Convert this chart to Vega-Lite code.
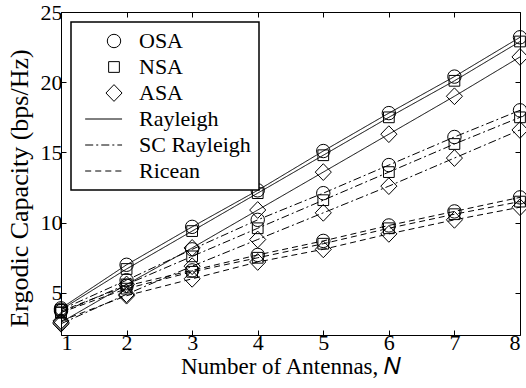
{
  "$schema": "https://vega.github.io/schema/vega-lite/v6.json",
  "width": 459,
  "height": 323,
  "autosize": "none",
  "padding": {"left": 61, "top": 12, "right": 6, "bottom": 53},
  "background": "white",
  "config": {
    "view": {"stroke": "black", "strokeWidth": 1},
    "font": "Liberation Serif",
    "style": {
      "guide-label": {"font": "Liberation Serif", "fill": "black"},
      "guide-title": {"font": "Liberation Serif", "fill": "black"}
    },
    "axis": {
      "domain": false,
      "grid": false,
      "tickColor": "black",
      "tickSize": -5,
      "labelColor": "black",
      "labelFont": "Liberation Serif",
      "labelFontSize": 22,
      "titleFont": "Liberation Serif",
      "titleFontSize": 23,
      "titleFontWeight": "normal",
      "titleColor": "black"
    },
    "legend": {
      "orient": "none",
      "legendX": 10,
      "legendY": 10,
      "strokeColor": "black",
      "strokeWidth": 1.5,
      "fillColor": "white",
      "padding": 8,
      "labelFont": "Liberation Serif",
      "labelFontSize": 22,
      "labelColor": "black",
      "symbolStrokeColor": "black",
      "symbolStrokeWidth": 1,
      "symbolSize": 180,
      "symbolOffset": 24,
      "labelOffset": 14,
      "rowPadding": 4
    }
  },
  "data": {
    "values": [
      {"N": 1, "channel": "Rayleigh", "strategy": "OSA", "C": 3.9},
      {"N": 2, "channel": "Rayleigh", "strategy": "OSA", "C": 7.0},
      {"N": 3, "channel": "Rayleigh", "strategy": "OSA", "C": 9.7},
      {"N": 4, "channel": "Rayleigh", "strategy": "OSA", "C": 12.3},
      {"N": 5, "channel": "Rayleigh", "strategy": "OSA", "C": 15.1},
      {"N": 6, "channel": "Rayleigh", "strategy": "OSA", "C": 17.8},
      {"N": 7, "channel": "Rayleigh", "strategy": "OSA", "C": 20.4},
      {"N": 8, "channel": "Rayleigh", "strategy": "OSA", "C": 23.2},
      {"N": 1, "channel": "Rayleigh", "strategy": "NSA", "C": 3.8},
      {"N": 2, "channel": "Rayleigh", "strategy": "NSA", "C": 6.7},
      {"N": 3, "channel": "Rayleigh", "strategy": "NSA", "C": 9.4},
      {"N": 4, "channel": "Rayleigh", "strategy": "NSA", "C": 12.1},
      {"N": 5, "channel": "Rayleigh", "strategy": "NSA", "C": 14.8},
      {"N": 6, "channel": "Rayleigh", "strategy": "NSA", "C": 17.5},
      {"N": 7, "channel": "Rayleigh", "strategy": "NSA", "C": 20.1},
      {"N": 8, "channel": "Rayleigh", "strategy": "NSA", "C": 22.9},
      {"N": 1, "channel": "Rayleigh", "strategy": "ASA", "C": 2.9},
      {"N": 2, "channel": "Rayleigh", "strategy": "ASA", "C": 5.6},
      {"N": 3, "channel": "Rayleigh", "strategy": "ASA", "C": 8.2},
      {"N": 4, "channel": "Rayleigh", "strategy": "ASA", "C": 10.9},
      {"N": 5, "channel": "Rayleigh", "strategy": "ASA", "C": 13.6},
      {"N": 6, "channel": "Rayleigh", "strategy": "ASA", "C": 16.3},
      {"N": 7, "channel": "Rayleigh", "strategy": "ASA", "C": 19.0},
      {"N": 8, "channel": "Rayleigh", "strategy": "ASA", "C": 21.8},
      {"N": 1, "channel": "SC Rayleigh", "strategy": "OSA", "C": 3.8},
      {"N": 2, "channel": "SC Rayleigh", "strategy": "OSA", "C": 5.9},
      {"N": 3, "channel": "SC Rayleigh", "strategy": "OSA", "C": 8.1},
      {"N": 4, "channel": "SC Rayleigh", "strategy": "OSA", "C": 10.2},
      {"N": 5, "channel": "SC Rayleigh", "strategy": "OSA", "C": 12.1},
      {"N": 6, "channel": "SC Rayleigh", "strategy": "OSA", "C": 14.1},
      {"N": 7, "channel": "SC Rayleigh", "strategy": "OSA", "C": 16.1},
      {"N": 8, "channel": "SC Rayleigh", "strategy": "OSA", "C": 18.0},
      {"N": 1, "channel": "SC Rayleigh", "strategy": "NSA", "C": 3.6},
      {"N": 2, "channel": "SC Rayleigh", "strategy": "NSA", "C": 5.6},
      {"N": 3, "channel": "SC Rayleigh", "strategy": "NSA", "C": 7.6},
      {"N": 4, "channel": "SC Rayleigh", "strategy": "NSA", "C": 9.6},
      {"N": 5, "channel": "SC Rayleigh", "strategy": "NSA", "C": 11.6},
      {"N": 6, "channel": "SC Rayleigh", "strategy": "NSA", "C": 13.6},
      {"N": 7, "channel": "SC Rayleigh", "strategy": "NSA", "C": 15.6},
      {"N": 8, "channel": "SC Rayleigh", "strategy": "NSA", "C": 17.5},
      {"N": 1, "channel": "SC Rayleigh", "strategy": "ASA", "C": 2.8},
      {"N": 2, "channel": "SC Rayleigh", "strategy": "ASA", "C": 4.9},
      {"N": 3, "channel": "SC Rayleigh", "strategy": "ASA", "C": 6.9},
      {"N": 4, "channel": "SC Rayleigh", "strategy": "ASA", "C": 8.8},
      {"N": 5, "channel": "SC Rayleigh", "strategy": "ASA", "C": 10.7},
      {"N": 6, "channel": "SC Rayleigh", "strategy": "ASA", "C": 12.6},
      {"N": 7, "channel": "SC Rayleigh", "strategy": "ASA", "C": 14.6},
      {"N": 8, "channel": "SC Rayleigh", "strategy": "ASA", "C": 16.6},
      {"N": 1, "channel": "Ricean", "strategy": "OSA", "C": 3.7},
      {"N": 2, "channel": "Ricean", "strategy": "OSA", "C": 5.5},
      {"N": 3, "channel": "Ricean", "strategy": "OSA", "C": 6.6},
      {"N": 4, "channel": "Ricean", "strategy": "OSA", "C": 7.7},
      {"N": 5, "channel": "Ricean", "strategy": "OSA", "C": 8.7},
      {"N": 6, "channel": "Ricean", "strategy": "OSA", "C": 9.8},
      {"N": 7, "channel": "Ricean", "strategy": "OSA", "C": 10.8},
      {"N": 8, "channel": "Ricean", "strategy": "OSA", "C": 11.8},
      {"N": 1, "channel": "Ricean", "strategy": "NSA", "C": 3.6},
      {"N": 2, "channel": "Ricean", "strategy": "NSA", "C": 5.3},
      {"N": 3, "channel": "Ricean", "strategy": "NSA", "C": 6.5},
      {"N": 4, "channel": "Ricean", "strategy": "NSA", "C": 7.5},
      {"N": 5, "channel": "Ricean", "strategy": "NSA", "C": 8.5},
      {"N": 6, "channel": "Ricean", "strategy": "NSA", "C": 9.6},
      {"N": 7, "channel": "Ricean", "strategy": "NSA", "C": 10.6},
      {"N": 8, "channel": "Ricean", "strategy": "NSA", "C": 11.5},
      {"N": 1, "channel": "Ricean", "strategy": "ASA", "C": 3.0},
      {"N": 2, "channel": "Ricean", "strategy": "ASA", "C": 4.8},
      {"N": 3, "channel": "Ricean", "strategy": "ASA", "C": 6.0},
      {"N": 4, "channel": "Ricean", "strategy": "ASA", "C": 7.2},
      {"N": 5, "channel": "Ricean", "strategy": "ASA", "C": 8.1},
      {"N": 6, "channel": "Ricean", "strategy": "ASA", "C": 9.2},
      {"N": 7, "channel": "Ricean", "strategy": "ASA", "C": 10.2},
      {"N": 8, "channel": "Ricean", "strategy": "ASA", "C": 11.1}
    ]
  },
  "resolve": {"axis": {"x": "independent", "y": "independent"}},
  "layer": [
    {
      "mark": {"type": "line", "color": "black", "strokeWidth": 1},
      "encoding": {
        "x": {
          "field": "N", "type": "quantitative",
          "scale": {"domain": [1, 8], "nice": false, "zero": false},
          "axis": {
            "orient": "bottom", "values": [1, 2, 3, 4, 5, 6, 7, 8], "labelPadding": 2,
            "title": "Number of Antennas,  𝑁", "titlePadding": 2
          }
        },
        "y": {
          "field": "C", "type": "quantitative",
          "scale": {"domain": [2, 25], "nice": false, "zero": false},
          "axis": {
            "orient": "left", "values": [5, 10, 15, 20, 25], "labelPadding": 4,
            "title": "Ergodic Capacity (bps/Hz)",
            "titleFontSize": 26,
            "titleX": -42, "titleY": 176, "titleAngle": -90,
            "titleAlign": "center", "titleBaseline": "middle"
          }
        },
        "detail": [{"field": "channel"}, {"field": "strategy"}],
        "strokeDash": {
          "field": "channel", "type": "nominal",
          "scale": {"domain": ["Rayleigh", "SC Rayleigh", "Ricean"], "range": [[1, 0], [8, 3, 2, 3], [6, 4]]},
          "legend": null
        }
      }
    },
    {
      "mark": {"type": "point", "filled": false, "color": "black", "strokeWidth": 1, "size": 180, "opacity": 1},
      "encoding": {
        "x": {
          "field": "N", "type": "quantitative",
          "axis": {"orient": "top", "values": [1, 2, 3, 4, 5, 6, 7, 8], "labels": false, "title": null}
        },
        "y": {
          "field": "C", "type": "quantitative",
          "axis": {"orient": "right", "values": [5, 10, 15, 20, 25], "labels": false, "title": null}
        },
        "shape": {
          "field": "strategy", "type": "nominal",
          "scale": {
            "domain": ["OSA", "NSA", "ASA", "Rayleigh", "SC Rayleigh", "Ricean"],
            "range": [
              "circle",
              "M-0.8,-0.8H0.8V0.8H-0.8Z",
              "M0,-1.25L1.2,0L0,1.25L-1.2,0Z",
              "M-4.3,0H1.2",
              "M-4.3,0H-3.1M-2.65,0H-2.35M-1.9,0H-0.7M-0.25,0H0.05M0.5,0H1.2",
              "M-4.3,0H-3.4M-2.8,0H-1.9M-1.3,0H-0.4M0.2,0H1.1"
            ]
          },
          "legend": {"title": null}
        }
      }
    }
  ]
}
